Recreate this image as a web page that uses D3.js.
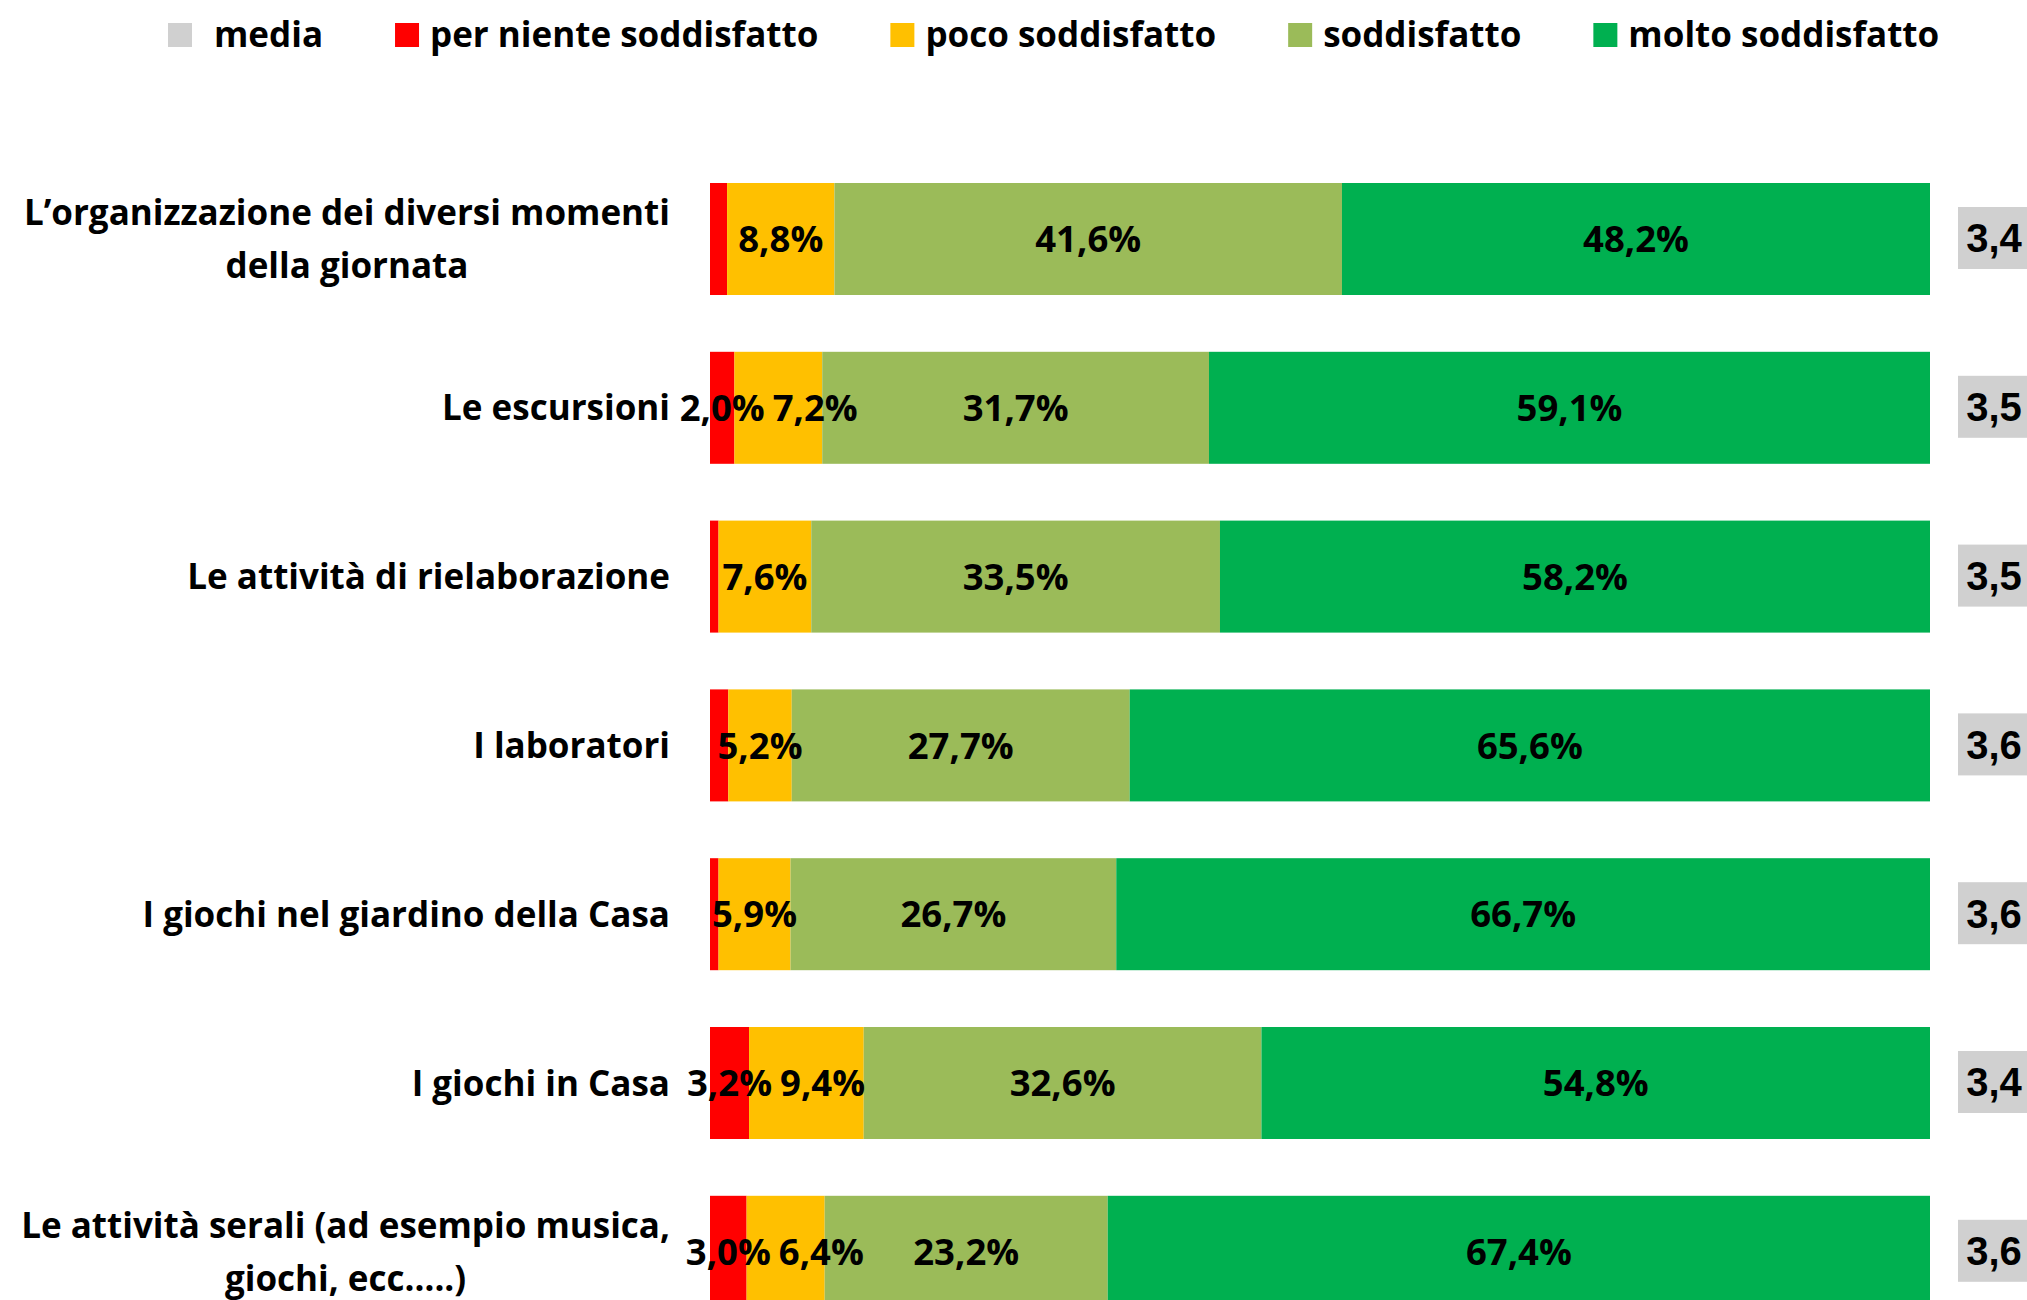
<!DOCTYPE html>
<html>
<head>
<meta charset="utf-8">
<script src="https://cdn.jsdelivr.net/npm/d3@7"></script>
<style>
  html, body { margin: 0; padding: 0; background: #ffffff; overflow: hidden; }
  svg { display: block; }
</style>
</head>
<body>
<svg id="chart" width="2027" height="1300"></svg>
<script>
// ---- data ----
const categories = [
  "L’organizzazione dei diversi momenti|della giornata",
  "Le escursioni",
  "Le attività di rielaborazione",
  "I laboratori",
  "I giochi nel giardino della Casa",
  "I giochi in Casa",
  "Le attività serali (ad esempio musica,|giochi, ecc…..)"
];
const seriesNames = ["per niente soddisfatto", "poco soddisfatto", "soddisfatto", "molto soddisfatto"];
const perNiente  = [1.4, 2.0, 0.7, 1.5, 0.7, 3.2, 3.0];
const poco       = [8.8, 7.2, 7.6, 5.2, 5.9, 9.4, 6.4];
const soddisfatto= [41.6, 31.7, 33.5, 27.7, 26.7, 32.6, 23.2];
const molto      = [48.2, 59.1, 58.2, 65.6, 66.7, 54.8, 67.4];
const media      = [3.4, 3.5, 3.5, 3.6, 3.6, 3.4, 3.6];
const legendNames = ["media", "per niente soddisfatto", "poco soddisfatto", "soddisfatto", "molto soddisfatto"];

// ---- style ----
const colors = ["#FF0000", "#FFC000", "#9BBB59", "#00B050"];
const mediaColor = "#D0D0D0";
const FONT = "'Open Sans', Lato, sans-serif";
const FS = 35;
const FS_LAB = 36.5;

const svg = d3.select("#chart");
const fmt = v => v.toFixed(1).replace(".", ",");

const x = d3.scaleLinear().domain([0, 100]).range([710, 1930]);
const y = d3.scaleBand().domain(d3.range(categories.length)).range([183, 1307.8]).paddingInner(0.3365).paddingOuter(0);

const seriesValues = [perNiente, poco, soddisfatto, molto];
const rows = categories.map((c, i) => {
  const o = { idx: i };
  seriesNames.forEach((s, k) => o[s] = seriesValues[k][i]);
  return o;
});
const stack = d3.stack().keys(seriesNames)(rows);

// bars
const gBars = svg.append("g");
stack.forEach((layer, k) => {
  gBars.append("g").attr("fill", colors[k])
    .selectAll("rect").data(layer).join("rect")
    .attr("x", d => x(d[0]))
    .attr("y", (d, i) => y(i))
    .attr("width", d => x(d[1]) - x(d[0]))
    .attr("height", y.bandwidth());
});

// data labels with simple left-to-right collision avoidance
const gLab = svg.append("g").attr("font-family", FONT).attr("font-weight", 700).attr("font-size", FS_LAB).attr("fill", "#000");
rows.forEach((r, i) => {
  let prevRight = -Infinity;
  const cy = y(i) + y.bandwidth() / 2;
  stack.forEach((layer, k) => {
    const d = layer[i];
    const v = d[1] - d[0];
    if (v < 2) return;
    const t = gLab.append("text").text(fmt(seriesValues[k][i]) + "%")
      .attr("y", cy).attr("dy", "0.36em").attr("text-anchor", "start");
    const w = t.node().getComputedTextLength();
    let left = (x(d[0]) + x(d[1])) / 2 - w / 2;
    if (left < prevRight + 8) left = prevRight + 8;
    t.attr("x", left);
    prevRight = left + w;
  });
});

// category labels
const gCat = svg.append("g").attr("font-family", FONT).attr("font-weight", 700).attr("font-size", FS).attr("fill", "#000");
const labelRight = 670, lineH = 53;
categories.forEach((c, i) => {
  const lines = c.split("|");
  const cy = y(i) + y.bandwidth() / 2;
  const texts = lines.map((ln, j) => gCat.append("text").text(ln)
    .attr("y", cy + (j - (lines.length - 1) / 2) * lineH).attr("dy", "0.36em"));
  const maxW = d3.max(texts, t => t.node().getComputedTextLength());
  texts.forEach(t => t.attr("x", labelRight - maxW / 2).attr("text-anchor", "middle"));
});

// media boxes
const gMed = svg.append("g");
media.forEach((m, i) => {
  const cy = y(i) + y.bandwidth() / 2 - 1;
  gMed.append("rect").attr("x", 1958).attr("y", cy - 31).attr("width", 80).attr("height", 62).attr("fill", mediaColor);
  gMed.append("text").text(fmt(m)).attr("x", 1994).attr("y", cy).attr("dy", "0.36em")
    .attr("text-anchor", "middle").attr("font-family", "'Liberation Sans', Arial, sans-serif")
    .attr("font-weight", 700).attr("font-size", 40).attr("fill", "#000");
});

// legend
const gLeg = svg.append("g").attr("font-family", FONT).attr("font-weight", 700).attr("font-size", FS);
const legColors = [mediaColor].concat(colors);
let lx = 168;
legendNames.forEach((n, k) => {
  gLeg.append("rect").attr("x", lx).attr("y", 23).attr("width", 24).attr("height", 24).attr("fill", legColors[k]);
  const tx = lx + 24 + (k === 0 ? 22 : 11);
  const t = gLeg.append("text").text(n).attr("x", tx).attr("y", 47).attr("fill", "#000");
  lx = tx + t.node().getComputedTextLength() + 72;
});
</script>
</body>
</html>
